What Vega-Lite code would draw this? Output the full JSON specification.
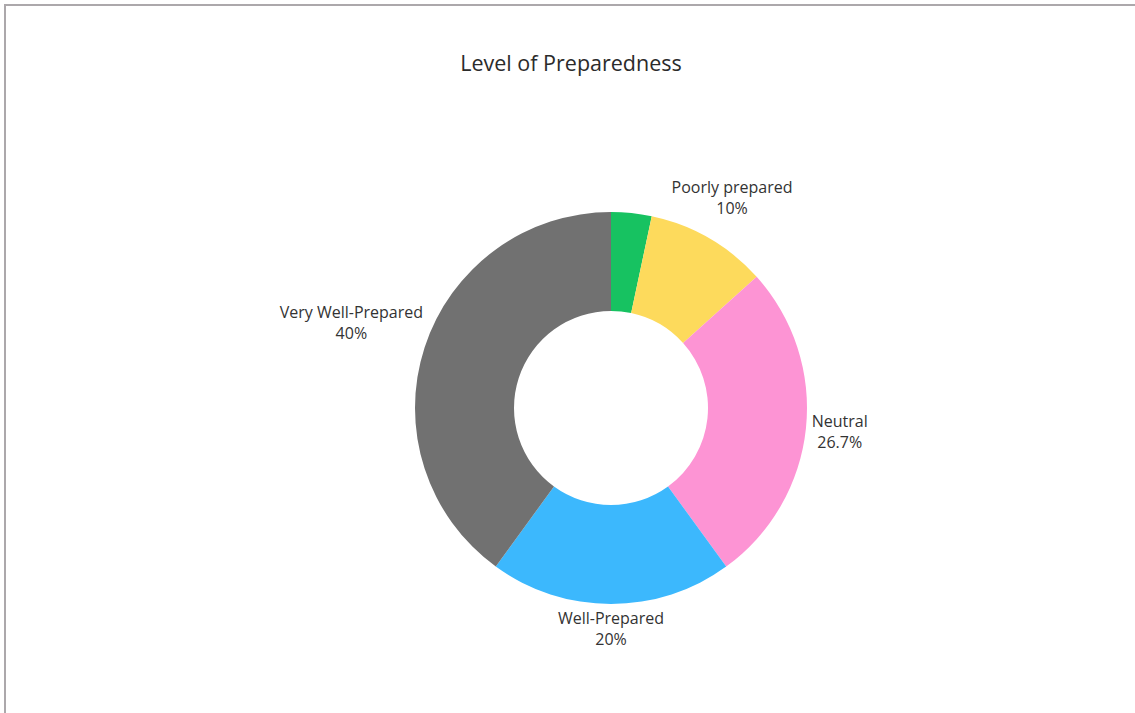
{
  "$schema": "https://vega.github.io/schema/vega-lite/v6.json",
  "width": 1212,
  "height": 806,
  "autosize": {"type": "none"},
  "padding": {"left": 5, "top": 5, "right": 0, "bottom": 0},
  "background": "white",
  "view": {"stroke": "#aca8ab", "strokeWidth": 2, "fill": "white"},
  "title": {
    "text": "Level of Preparedness",
    "anchor": "middle",
    "baseline": "alphabetic",
    "offset": 0,
    "dx": -40,
    "dy": 87,
    "font": "Open Sans",
    "fontSize": 21.5,
    "fontWeight": "normal",
    "color": "#2b2b2b"
  },
  "data": {
    "values": [
      {"order": 1, "category": "Very Poorly prepared", "value": 1, "label": ""},
      {"order": 2, "category": "Poorly prepared", "value": 3, "label": "Poorly prepared\n10%"},
      {"order": 3, "category": "Neutral", "value": 8, "label": "Neutral\n26.7%"},
      {"order": 4, "category": "Well-Prepared", "value": 6, "label": "Well-Prepared\n20%"},
      {"order": 5, "category": "Very Well-Prepared", "value": 12, "label": "Very Well-Prepared\n40%"}
    ]
  },
  "encoding": {
    "theta": {"field": "value", "type": "quantitative", "stack": true},
    "order": {"field": "order", "type": "quantitative"}
  },
  "layer": [
    {
      "mark": {"type": "arc", "outerRadius": 196, "innerRadius": 97},
      "encoding": {
        "color": {
          "field": "category",
          "type": "nominal",
          "scale": {
            "domain": ["Very Poorly prepared", "Poorly prepared", "Neutral", "Well-Prepared", "Very Well-Prepared"],
            "range": ["#17c261", "#fdda5c", "#fd94d4", "#3cb8fd", "#717171"]
          },
          "legend": null
        }
      }
    },
    {
      "mark": {"type": "text", "radius": 242, "dy": -10.5, "font": "Open Sans", "fontSize": 16, "lineBreak": "\n", "lineHeight": 21, "align": "center", "baseline": "middle", "color": "#333333"},
      "encoding": {
        "text": {"condition": {"test": "datum.category === 'Poorly prepared'", "field": "label"}, "value": ""}
      }
    },
    {
      "mark": {"type": "text", "radius": 230, "dy": -10.5, "font": "Open Sans", "fontSize": 16, "lineBreak": "\n", "lineHeight": 21, "align": "center", "baseline": "middle", "color": "#333333"},
      "encoding": {
        "text": {"condition": {"test": "datum.category === 'Neutral'", "field": "label"}, "value": ""}
      }
    },
    {
      "mark": {"type": "text", "radius": 221, "dy": -10.5, "font": "Open Sans", "fontSize": 16, "lineBreak": "\n", "lineHeight": 21, "align": "center", "baseline": "middle", "color": "#333333"},
      "encoding": {
        "text": {"condition": {"test": "datum.category === 'Well-Prepared'", "field": "label"}, "value": ""}
      }
    },
    {
      "mark": {"type": "text", "radius": 273, "dy": -10.5, "font": "Open Sans", "fontSize": 16, "lineBreak": "\n", "lineHeight": 21, "align": "center", "baseline": "middle", "color": "#333333"},
      "encoding": {
        "text": {"condition": {"test": "datum.category === 'Very Well-Prepared'", "field": "label"}, "value": ""}
      }
    }
  ]
}
